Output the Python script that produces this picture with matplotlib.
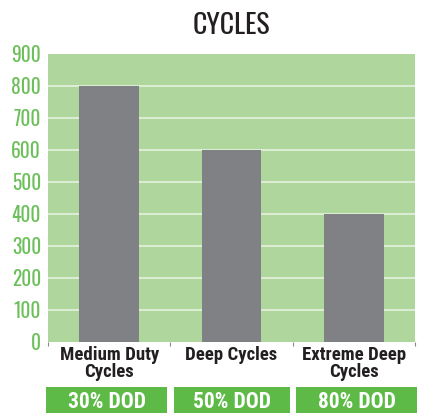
import numpy as np
import matplotlib.pyplot as plt
from matplotlib import font_manager

categories = ['Medium Duty\nCycles', 'Deep Cycles', 'Extreme Deep\nCycles']
cycles = [800, 600, 400]
dod_labels = ['30% DOD', '50% DOD', '80% DOD']
y_ticks = [0, 100, 200, 300, 400, 500, 600, 700, 800, 900]

names = set(f.name for f in font_manager.fontManager.ttflist)


def pick(*cands):
    for c in cands:
        if c in names:
            return c
    return 'DejaVu Sans'


title_font = pick('Oswald', 'Roboto Condensed', 'Liberation Sans Narrow')
label_font = pick('Roboto Condensed', 'Archivo Narrow', 'Oswald', 'Liberation Sans Narrow')
tick_font = pick('Oswald', 'Roboto Condensed', 'Liberation Sans Narrow')

fig = plt.figure(figsize=(4.22, 4.13), dpi=100)
W, H = 422, 413
ax = fig.add_axes([48 / W, 1 - 342 / H, 367 / W, 288 / H])
ax.set_facecolor('#afd69c')

x = np.arange(len(categories))
ax.bar(x, cycles, width=0.49, color='#808184', zorder=3)
ax.set_xlim(-0.5, 2.5)
ax.set_ylim(0, 900)
ax.set_yticks(y_ticks)
ax.set_yticklabels([str(v) for v in y_ticks], color='#6abf58', fontsize=14,
                   family=tick_font, fontweight='light')
for v in y_ticks[1:-1]:
    ax.axhline(v, color='#e6f2df', lw=1.2, zorder=2)
ax.tick_params(axis='y', length=0, pad=5)
ax.set_xticks([-0.5, 0.5, 1.5, 2.5])
ax.set_xticklabels([])
ax.tick_params(axis='x', length=3, width=0.8, color='#888888')
for s in ax.spines.values():
    s.set_visible(False)

for i, c in enumerate(categories):
    ax.text(i, -12, c, ha='center', va='top', fontsize=13.5, fontweight=900,
            family=label_font, color='#231f20', linespacing=0.95,
            clip_on=False)

fig.text(231 / W, 1 - 25 / H, 'CYCLES', ha='center', va='center',
         fontsize=20, family=title_font, fontweight='light', color='#231f20')

boxes = [(46, 167), (174, 290), (296, 417)]
for (x0, x1), lab in zip(boxes, dod_labels):
    bax = fig.add_axes([x0 / W, 0, (x1 - x0) / W, 26 / H])
    bax.set_facecolor('#5dba47')
    bax.set_xticks([])
    bax.set_yticks([])
    for s in bax.spines.values():
        s.set_visible(False)
    bax.text(0.5, 0.42, lab, ha='center', va='center', fontsize=15.5,
             fontweight='bold', family=label_font, color='white',
             transform=bax.transAxes)

fig.savefig('out.png', dpi=100)
